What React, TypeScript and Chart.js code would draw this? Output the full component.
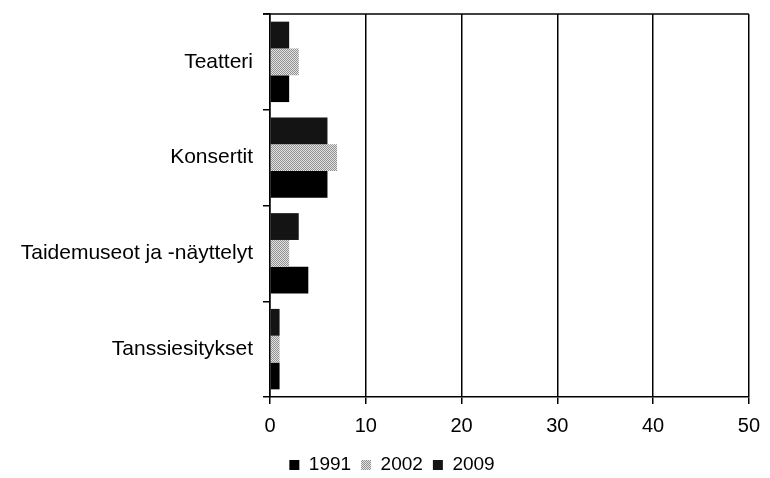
import React, { useEffect, useRef } from "react";
import { Chart, registerables } from "chart.js";

Chart.register(...registerables);

const categories = ["Teatteri", "Konsertit", "Taidemuseot ja -näyttelyt", "Tanssiesitykset"];
const values1991 = [2, 6, 4, 1];
const values2002 = [3, 7, 2, 1];
const values2009 = [2, 6, 3, 1];
const xTicks = [0, 10, 20, 30, 40, 50];

function makePattern(): CanvasPattern | string {
  const c = document.createElement("canvas");
  c.width = 2;
  c.height = 2;
  const g = c.getContext("2d");
  if (!g) return "#bdbdbd";
  g.fillStyle = "#e4e4e4";
  g.fillRect(0, 0, 2, 2);
  g.fillStyle = "#8f8f8f";
  g.fillRect(0, 0, 1, 1);
  g.fillRect(1, 1, 1, 1);
  const p = g.createPattern(c, "repeat");
  return p || "#bdbdbd";
}

const topBorder = {
  id: "topBorder",
  afterDraw(chart: any) {
    const { ctx, chartArea } = chart;
    ctx.save();
    ctx.strokeStyle = "#000";
    ctx.lineWidth = 1.5;
    ctx.beginPath();
    ctx.moveTo(chartArea.left - 7, chartArea.top);
    ctx.lineTo(chartArea.right, chartArea.top);
    ctx.stroke();
    ctx.restore();
  },
};

export default function App() {
  const ref = useRef<HTMLCanvasElement | null>(null);
  useEffect(() => {
    if (!ref.current) return;
    const font = "'Liberation Sans', Arial, sans-serif";
    const chart = new Chart(ref.current, {
      type: "bar",
      data: {
        labels: categories,
        datasets: [
          { label: "2009", data: values2009, backgroundColor: "#141414", borderWidth: 0 },
          { label: "2002", data: values2002, backgroundColor: makePattern() as any, borderWidth: 0 },
          { label: "1991", data: values1991, backgroundColor: "#000000", borderWidth: 0 },
        ],
      },
      options: {
        indexAxis: "y",
        animation: false,
        responsive: false,
        maintainAspectRatio: false,
        layout: { padding: { top: 14, left: 35, right: 21, bottom: 0.5 } },
        datasets: { bar: { categoryPercentage: 0.84, barPercentage: 1 } },
        scales: {
          x: {
            min: 0,
            max: 50,
            afterBuildTicks: (s: any) => {
              s.ticks = xTicks.map((v) => ({ value: v }));
            },
            afterFit: (s: any) => {
              s.height = 48.5;
            },
            grid: { color: "#000", lineWidth: 1.5, tickLength: 7, drawTicks: true },
            border: { display: true, color: "#000", width: 1.5 },
            ticks: {
              color: "#000",
              font: { family: font, size: 20 },
              padding: 10,
              maxRotation: 0,
            },
          },
          y: {
            afterFit: (s: any) => {
              s.width = 235;
              s.paddingTop = 0;
              s.paddingBottom = 0;
              s._computeLabelArea = () => undefined;
            },
            grid: {
              color: "#000",
              lineWidth: 1.5,
              drawOnChartArea: false,
              tickLength: 7,
              offset: true,
            },
            border: { display: true, color: "#000", width: 1.5 },
            ticks: {
              color: "#000",
              font: { family: font, size: 21 },
              padding: 10,
            },
          },
        },
        plugins: {
          tooltip: { enabled: false },
          legend: {
            position: "bottom",
            reverse: true,
            labels: {
              color: "#000",
              font: { family: font, size: 19 },
              boxWidth: 10,
              boxHeight: 10,
              padding: 10,
            },
          },
        },
      },
      plugins: [topBorder],
    });
    return () => chart.destroy();
  }, []);
  return (
    <div style={{ position: "fixed", left: 0, top: 0, width: 770, height: 485, background: "#fff" }}>
      <canvas ref={ref} width={770} height={485} style={{ width: 770, height: 485, display: "block" }} />
    </div>
  );
}
